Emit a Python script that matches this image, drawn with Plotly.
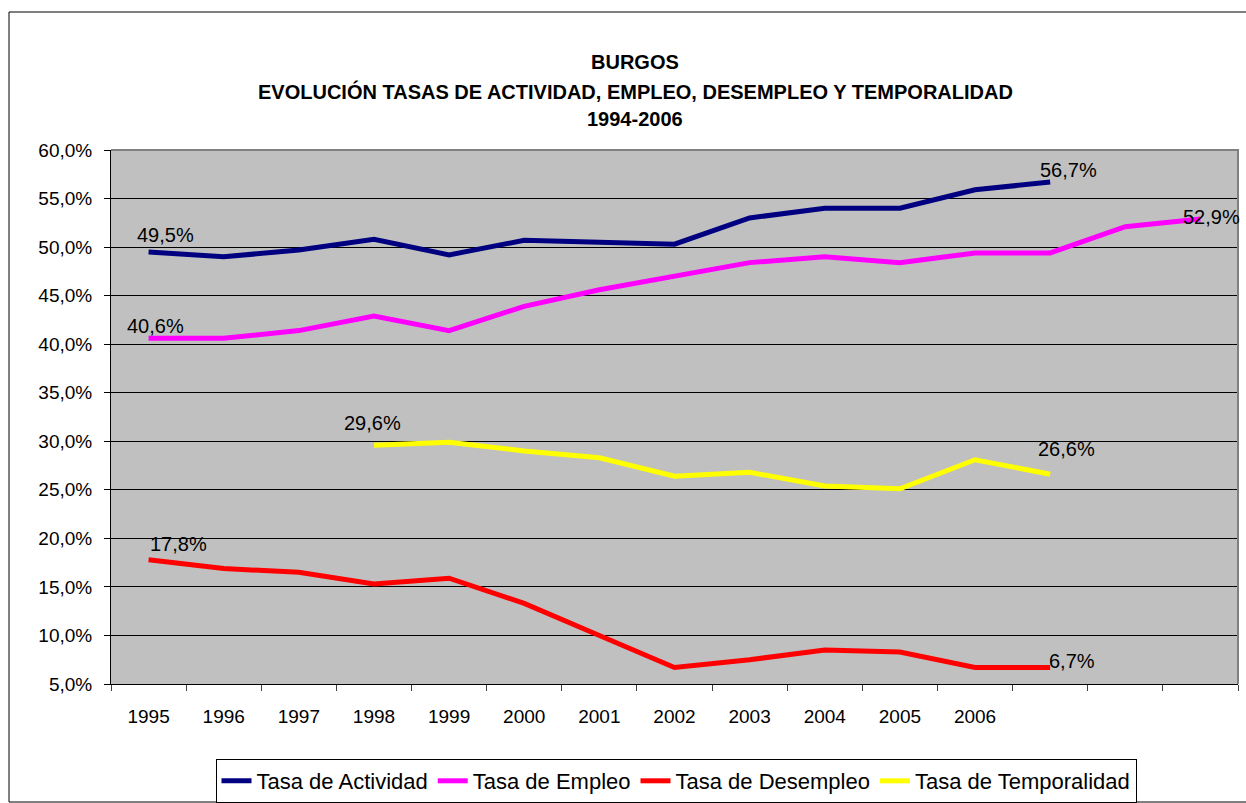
import plotly.graph_objects as go

# ---------------- data ----------------
categories = ["1995", "1996", "1997", "1998", "1999", "2000", "2001", "2002",
              "2003", "2004", "2005", "2006", "", "", ""]

tasa_actividad = [49.5, 49.0, 49.7, 50.8, 49.2, 50.7, 50.5, 50.3, 53.0, 54.0,
                  54.0, 55.9, 56.7, None, None]
tasa_empleo = [40.6, 40.6, 41.4, 42.9, 41.4, 43.9, 45.6, 47.0, 48.4, 49.0,
               48.4, 49.4, 49.4, 52.1, 52.9]
tasa_desempleo = [17.8, 16.9, 16.5, 15.3, 15.9, 13.3, 10.0, 6.7, 7.5, 8.5,
                  8.3, 6.7, 6.7, None, None]
tasa_temporalidad = [None, None, None, 29.6, 29.9, 29.0, 28.3, 26.4, 26.8, 25.4,
                     25.1, 28.1, 26.6, None, None]

series_names = ["Tasa de Actividad", "Tasa de Empleo", "Tasa de Desempleo",
                "Tasa de Temporalidad"]
series_values = [tasa_actividad, tasa_empleo, tasa_desempleo, tasa_temporalidad]

y_ticks = [5, 10, 15, 20, 25, 30, 35, 40, 45, 50, 55, 60]
y_tick_labels = [f"{v:.1f}%".replace(".", ",") for v in y_ticks]

title_lines = ["BURGOS",
               "EVOLUCIÓN TASAS DE ACTIVIDAD, EMPLEO, DESEMPLEO Y TEMPORALIDAD",
               "1994-2006"]

# ---------------- style ----------------
colors = ["#000080", "#FF00FF", "#FF0000", "#FFFF00"]
FONT = "Liberation Sans, Arial, sans-serif"
W, H = 1246, 803
L, R, T, B = 111, 8, 150, 119
PW, PH = W - L - R, H - T - B

# label placement: series index -> list of (point index, xshift, yshift)
label_style = {
    0: [(0, 17, 17), (12, 18, 12)],
    1: [(0, 7, 12), (14, 11, 2)],
    2: [(0, 30, 16), (12, 22, 6)],
    3: [(3, -1, 22), (12, 16, 25)],
}


def px_to_paper_x(px):
    return (px - L) / PW


def px_to_paper_y(py):
    return (H - B - py) / PH


x_idx = list(range(len(categories)))

fig = go.Figure()
for name, vals, col in zip(series_names, series_values, colors):
    fig.add_trace(go.Scatter(
        x=x_idx, y=vals, name=name, mode="lines",
        line=dict(color=col, width=5), connectgaps=False,
    ))

annotations = []
for si, specs in label_style.items():
    vals = series_values[si]
    for idx, dx, dy in specs:
        v = vals[idx]
        annotations.append(dict(
            x=idx, y=v, xref="x", yref="y",
            text=f"{v:.1f}%".replace(".", ","),
            showarrow=False, xanchor="center", yanchor="middle",
            xshift=dx, yshift=dy,
            font=dict(family=FONT, size=20, color="black"),
        ))

title_y_px = [62, 91, 119]
for line, ypx in zip(title_lines, title_y_px):
    annotations.append(dict(
        x=px_to_paper_x(635), y=px_to_paper_y(ypx), xref="paper", yref="paper",
        text=f"<b>{line}</b>", showarrow=False, xanchor="center", yanchor="middle",
        font=dict(family=FONT, size=20, color="black"),
    ))

shapes = [
    # plot-area border (top and right, gray)
    dict(type="path", xref="paper", yref="paper",
         path="M 0,1 L 1,1 L 1,0", line=dict(color="#808080", width=2),
         layer="above"),
    # outer chart border (right edge lies beyond the picture)
    dict(type="rect", xref="paper", yref="paper",
         x0=px_to_paper_x(9), x1=px_to_paper_x(1256),
         y0=px_to_paper_y(802), y1=px_to_paper_y(12),
         line=dict(color="black", width=1), fillcolor="rgba(0,0,0,0)",
         layer="above"),
]

fig.update_layout(
    width=W, height=H,
    margin=dict(l=L, r=R, t=T, b=B, pad=0),
    paper_bgcolor="white", plot_bgcolor="#C0C0C0",
    separators=",.",
    font=dict(family=FONT, size=18, color="black"),
    showlegend=True,
    legend=dict(
        orientation="h", xref="container", yref="container",
        x=676 / W, xanchor="center", y=1 - 781 / H, yanchor="middle",
        bordercolor="black", borderwidth=1, bgcolor="white",
        font=dict(family=FONT, size=22, color="black"),
        tracegroupgap=0,
    ),
    annotations=annotations,
    shapes=shapes,
)

fig.update_xaxes(
    range=[-0.5, len(categories) - 0.5],
    tickmode="array", tickvals=x_idx, ticktext=categories,
    ticks="", ticklabelstandoff=15,
    tickfont=dict(family=FONT, size=19, color="black"),
    showgrid=False, zeroline=False,
    showline=True, linecolor="black", linewidth=1,
    minor=dict(ticks="outside", ticklen=6, tickcolor="#404040",
               tick0=-0.5, dtick=1, showgrid=False),
    fixedrange=True,
)
fig.update_yaxes(
    range=[5, 60],
    tickmode="array", tickvals=y_ticks, ticktext=y_tick_labels,
    ticks="outside", ticklen=6, tickcolor="black", ticklabelstandoff=8,
    tickfont=dict(family=FONT, size=19, color="black"),
    showgrid=True, gridcolor="black", gridwidth=1,
    zeroline=False,
    showline=True, linecolor="black", linewidth=1,
    fixedrange=True,
)

fig.write_html("out.html",
               config={"displayModeBar": False},
               post_script="document.body.style.margin='0';"
                           "document.body.style.overflow='hidden';")
